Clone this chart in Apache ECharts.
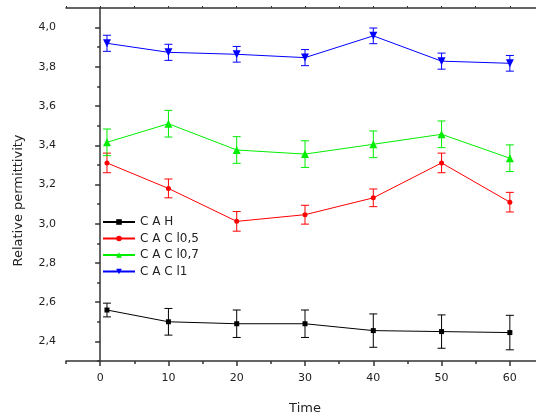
<!DOCTYPE html>
<html>
<head>
<meta charset="utf-8">
<script src="https://cdn.jsdelivr.net/npm/echarts@6/dist/echarts.min.js"></script>
<style>
  html,body{margin:0;padding:0;background:#fff}
  #main{width:536px;height:416px}
</style>
</head>
<body>
<div id="main"></div>
<script>
// 数据
const time = [1, 10, 20, 30, 40, 50, 60]
const cah = [2.56, 2.50, 2.49, 2.49, 2.455, 2.45, 2.445]
const cahErr = [0.035, 0.068, 0.07, 0.07, 0.085, 0.085, 0.088]
const cac05 = [3.31, 3.18, 3.012, 3.046, 3.132, 3.31, 3.11]
const cac05Err = [0.05, 0.048, 0.05, 0.048, 0.045, 0.05, 0.05]
const cac07 = [3.415, 3.51, 3.376, 3.355, 3.405, 3.456, 3.334]
const cac07Err = [0.068, 0.068, 0.068, 0.068, 0.068, 0.068, 0.068]
const cac1 = [3.92, 3.874, 3.864, 3.847, 3.958, 3.829, 3.818]
const cac1Err = [0.041, 0.041, 0.04, 0.041, 0.04, 0.041, 0.04]

const xMajor = [0, 10, 20, 30, 40, 50, 60]
const xMinor = [-5, 5, 15, 25, 35, 45, 55]
const yMajor = [2.4, 2.6, 2.8, 3.0, 3.2, 3.4, 3.6, 3.8, 4.0]
const yMinor = [2.3, 2.5, 2.7, 2.9, 3.1, 3.3, 3.5, 3.7, 3.9]

const names = ['C A H', 'C A C l0,5', 'C A C l0,7', 'C A C l1']
const colors = ['#000000', '#ff0000', '#00ee00', '#0000ff']
const values = [cah, cac05, cac07, cac1]
const errs = [cahErr, cac05Err, cac07Err, cac1Err]
const symbols = ['rect', 'circle', 'triangle', 'triangle']
const symbolSizes = [5, 5, 8, 8]
const symbolRotates = [0, 0, 0, 180]

const font = 'DejaVu Sans'

const chart = echarts.init(document.getElementById('main'))

const lineSeries = values.map((vals, i) => ({
  name: names[i],
  type: 'line',
  data: time.map((t, k) => [t, vals[k]]),
  symbol: symbols[i],
  symbolSize: symbolSizes[i],
  symbolRotate: symbolRotates[i],
  showAllSymbol: true,
  lineStyle: { color: colors[i], width: 1 },
  itemStyle: { color: colors[i] },
  z: 3
}))

// 误差棒
const errSeries = values.map((vals, i) => ({
  type: 'custom',
  data: time.map((t, k) => [t, vals[k] - errs[i][k], vals[k] + errs[i][k]]),
  renderItem: function (params, api) {
    const lo = api.coord([api.value(0), api.value(1)])
    const hi = api.coord([api.value(0), api.value(2)])
    const hw = 4
    const st = { stroke: colors[i], lineWidth: 1 }
    return {
      type: 'group',
      children: [
        { type: 'line', shape: { x1: lo[0], y1: lo[1], x2: hi[0], y2: hi[1] }, style: st },
        { type: 'line', shape: { x1: lo[0] - hw, y1: lo[1], x2: lo[0] + hw, y2: lo[1] }, style: st },
        { type: 'line', shape: { x1: hi[0] - hw, y1: hi[1], x2: hi[0] + hw, y2: hi[1] }, style: st }
      ]
    }
  },
  z: 2
}))

const axisCommon = {
  type: 'value',
  min: -5,
  max: 65,
  splitLine: { show: false }
}

chart.setOption({
  animation: false,
  grid: { left: 66, right: -8, top: 8, bottom: 55, containLabel: false, outerBoundsMode: 'none' },
  legend: {
    data: names,
    orient: 'vertical',
    left: 97,
    top: 211,
    itemWidth: 32,
    itemHeight: 7,
    itemGap: 4.5,
    textStyle: { fontFamily: font, fontSize: 12, color: '#222', lineHeight: 12 }
  },
  xAxis: [
    Object.assign({}, axisCommon, {
      position: 'bottom',
      name: 'Time',
      nameLocation: 'middle',
      nameGap: 41,
      nameMoveOverlap: false,
      nameTextStyle: { fontFamily: font, fontSize: 13, color: '#222' },
      axisLine: { lineStyle: { color: '#333', width: 1.5 } },
      axisTick: { customValues: xMajor, length: 5, lineStyle: { color: '#333', width: 1.5 } },
      axisLabel: { customValues: xMajor, fontFamily: font, fontSize: 11, color: '#222', margin: 12 }
    }),
    Object.assign({}, axisCommon, {
      position: 'bottom',
      axisLine: { show: false },
      axisTick: { customValues: xMinor, length: 3, lineStyle: { color: '#333', width: 1.5 } },
      axisLabel: { show: false }
    }),
    Object.assign({}, axisCommon, {
      position: 'top',
      axisLine: { lineStyle: { color: '#333', width: 1.5 } },
      axisTick: { customValues: xMajor.concat(xMinor), length: 2, lineStyle: { color: '#333', width: 1 } },
      axisLabel: { show: false }
    })
  ],
  yAxis: [
    {
      type: 'value',
      min: 2.3,
      max: 4.1,
      name: 'Relative permittivity',
      nameLocation: 'middle',
      nameGap: 41,
      nameMoveOverlap: false,
      nameTextStyle: { fontFamily: font, fontSize: 13, color: '#222', padding: [0, 32, 0, 0] },
      splitLine: { show: false },
      axisLine: { show: true, lineStyle: { color: '#333', width: 1.5 } },
      axisTick: { customValues: yMajor, length: 5, lineStyle: { color: '#333', width: 1.5 } },
      axisLabel: {
        customValues: yMajor,
        fontFamily: font, fontSize: 11, color: '#222', margin: 10,
        formatter: v => v.toFixed(1).replace('.', ',')
      }
    },
    {
      type: 'value',
      min: 2.3,
      max: 4.1,
      position: 'left',
      splitLine: { show: false },
      axisLine: { show: false },
      axisTick: { customValues: yMinor, length: 3, lineStyle: { color: '#333', width: 1.5 } },
      axisLabel: { show: false }
    }
  ],
  series: lineSeries.concat(errSeries)
})
</script>
</body>
</html>
